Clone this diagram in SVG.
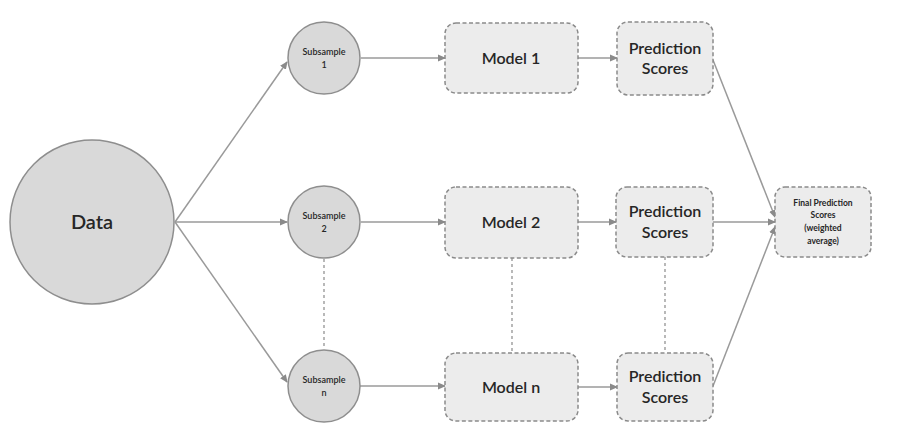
<svg xmlns="http://www.w3.org/2000/svg" width="912" height="437" viewBox="0 0 912 437">
<defs>
<marker id="arr" markerWidth="8" markerHeight="8" refX="7" refY="4" orient="auto" markerUnits="userSpaceOnUse">
<path d="M0,0.5 L8,4 L0,7.5 z" fill="#8a8a8a"/>
</marker>
<style>
.circ{fill:#d9d9d9;stroke:#8e8e8e;stroke-width:1.5}
.box{fill:#ececec;stroke:#8a8a8a;stroke-width:1.5;stroke-dasharray:4 2.5}
.ln{stroke:#9a9a9a;stroke-width:1.5;fill:none}
.dl{stroke:#8a8a8a;stroke-width:1.2;fill:none;stroke-dasharray:3 3}
text{font-family:Lato,"Open Sans","Liberation Sans",sans-serif;fill:#262626;text-anchor:middle}
.big{font-size:20px;font-weight:600}
.mid{font-size:16px;font-weight:600}
.sm{font-size:9px;font-weight:600}
.fin{font-size:8.5px;font-weight:700}
</style>
</defs>
<rect width="912" height="437" fill="#ffffff"/>
<g id="connectors">
<line class="ln" x1="175" y1="222" x2="287" y2="62" marker-end="url(#arr)"/>
<line class="ln" x1="175" y1="222" x2="287" y2="222" marker-end="url(#arr)"/>
<line class="ln" x1="175" y1="222" x2="287" y2="382" marker-end="url(#arr)"/>
<line class="ln" x1="361" y1="58" x2="445" y2="58" marker-end="url(#arr)"/>
<line class="ln" x1="361" y1="222" x2="445" y2="222" marker-end="url(#arr)"/>
<line class="ln" x1="360" y1="386" x2="445" y2="386" marker-end="url(#arr)"/>
<line class="ln" x1="578" y1="58" x2="617" y2="58" marker-end="url(#arr)"/>
<line class="ln" x1="578" y1="222" x2="616" y2="222" marker-end="url(#arr)"/>
<line class="ln" x1="578" y1="387" x2="617" y2="387" marker-end="url(#arr)"/>
<line class="ln" x1="713" y1="60" x2="775" y2="217" marker-end="url(#arr)"/>
<line class="ln" x1="713" y1="222" x2="775" y2="222" marker-end="url(#arr)"/>
<line class="ln" x1="713" y1="386" x2="775" y2="227" marker-end="url(#arr)"/>
<line class="dl" x1="324" y1="259" x2="324" y2="349"/>
<line class="dl" x1="512" y1="258" x2="512" y2="353"/>
<line class="dl" x1="665" y1="257" x2="665" y2="353"/>
</g>
<g id="data"><circle class="circ" cx="92" cy="222" r="82"/><text class="big" x="92" y="229">Data</text></g>
<g id="sub1"><circle class="circ" cx="324" cy="58" r="36"/><text class="sm" x="324" y="55">Subsample</text><text class="sm" x="324" y="68">1</text></g>
<g id="sub2"><circle class="circ" cx="324" cy="222" r="36"/><text class="sm" x="324" y="219">Subsample</text><text class="sm" x="324" y="232">2</text></g>
<g id="subn"><circle class="circ" cx="324" cy="386" r="36"/><text class="sm" x="324" y="383">Subsample</text><text class="sm" x="324" y="396">n</text></g>
<g id="model1"><rect class="box" x="445" y="23" width="133" height="70" rx="11"/><text class="mid" x="511" y="64">Model 1</text></g>
<g id="model2"><rect class="box" x="445" y="187" width="133" height="71" rx="11"/><text class="mid" x="511" y="228">Model 2</text></g>
<g id="modeln"><rect class="box" x="445" y="353" width="133" height="68" rx="11"/><text class="mid" x="511" y="393">Model n</text></g>
<g id="pred1"><rect class="box" x="617" y="22" width="96" height="73" rx="11"/><text class="mid" x="665" y="54">Prediction</text><text class="mid" x="665" y="74">Scores</text></g>
<g id="pred2"><rect class="box" x="616" y="187" width="97" height="70" rx="11"/><text class="mid" x="665" y="217">Prediction</text><text class="mid" x="665" y="238">Scores</text></g>
<g id="predn"><rect class="box" x="617" y="353" width="96" height="68" rx="11"/><text class="mid" x="665" y="382">Prediction</text><text class="mid" x="665" y="403">Scores</text></g>
<g id="final"><rect class="box" x="775" y="187" width="96" height="70" rx="10"/><text class="fin" x="823" y="206">Final Prediction</text><text class="fin" x="823" y="218">Scores</text><text class="fin" x="823" y="231">(weighted</text><text class="fin" x="823" y="244">average)</text></g>
</svg>
